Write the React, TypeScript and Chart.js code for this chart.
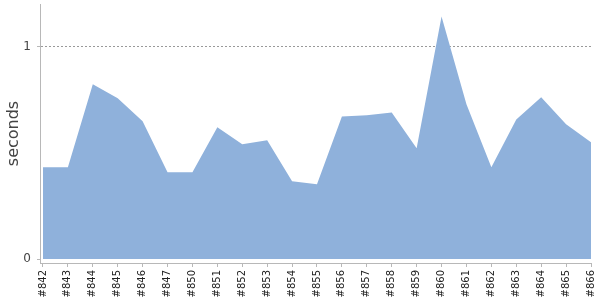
import React, { useEffect, useRef } from "react";
import { Chart, registerables } from "chart.js";

Chart.register(...registerables);

const buildLabels = ["#842", "#843", "#844", "#845", "#846", "#847", "#850", "#851", "#852", "#853", "#854", "#855", "#856", "#857", "#858", "#859", "#860", "#861", "#862", "#863", "#864", "#865", "#866"];
const durations = [0.432, 0.432, 0.822, 0.756, 0.648, 0.408, 0.408, 0.62, 0.54, 0.559, 0.366, 0.352, 0.671, 0.676, 0.69, 0.521, 1.141, 0.728, 0.432, 0.657, 0.761, 0.634, 0.549];
const yTickValues = [0, 1];

export default function App() {
  const ref = useRef<HTMLCanvasElement>(null);
  useEffect(() => {
    if (!ref.current) return;
    const chart = new Chart(ref.current, {
      type: "line",
      data: {
        datasets: [
          {
            data: durations.map((v, i) => ({ x: i, y: v })),
            fill: "origin",
            backgroundColor: "#8fb1db",
            borderColor: "#8fb1db",
            borderWidth: 0,
            pointRadius: 0,
            tension: 0,
          },
        ],
      },
      options: {
        animation: false,
        responsive: false,
        layout: { padding: { top: 4, right: 9, left: 0, bottom: 0 } },
        plugins: { legend: { display: false }, tooltip: { enabled: false } },
        scales: {
          x: {
            type: "linear",
            min: -0.12,
            max: buildLabels.length - 1,
            afterFit: (s: any) => {
              s.height = 37;
              s.paddingLeft = 0;
              s.paddingRight = 0;
            },
            border: { color: "#b8b8b8", width: 1 },
            grid: { drawOnChartArea: false, drawTicks: true, tickLength: 4, tickColor: "#b8b8b8" },
            ticks: {
              stepSize: 1,
              includeBounds: false,
              autoSkip: false,
              minRotation: 90,
              maxRotation: 90,
              padding: 3,
              color: "#222",
              font: { family: "DejaVu Sans", size: 10 },
              callback: (v: any) => (Number.isInteger(v) ? buildLabels[v] : ""),
            },
          },
          y: {
            min: -0.0188,
            max: 1.2,
            afterFit: (s: any) => {
              s.width = 40;
              s.paddingTop = 0;
              s.paddingBottom = 0;
            },
            border: { color: "#b8b8b8", width: 1, dash: [2, 2] },
            grid: {
              color: (c: any) => (c.tick && c.tick.value === 1 ? "#999" : "rgba(0,0,0,0)"),
              tickColor: "#b8b8b8",
              tickLength: 3,
              tickBorderDash: [],
            },
            ticks: {
              stepSize: 1,
              includeBounds: false,
              padding: 6,
              color: "#444",
              font: { family: "DejaVu Sans", size: 12 },
              callback: (v: any) => (yTickValues.includes(v) ? String(v) : ""),
            },
            title: {
              display: true,
              text: "seconds",
              color: "#444",
              font: { family: "DejaVu Sans", size: 16 },
              padding: { top: 4, bottom: 0 },
            },
          },
        },
      },
    });
    return () => chart.destroy();
  }, []);
  return (
    <div style={{ position: "absolute", left: 0, top: 0, width: 600, height: 300, background: "#fff" }}>
      <canvas ref={ref} width={600} height={300} />
    </div>
  );
}
